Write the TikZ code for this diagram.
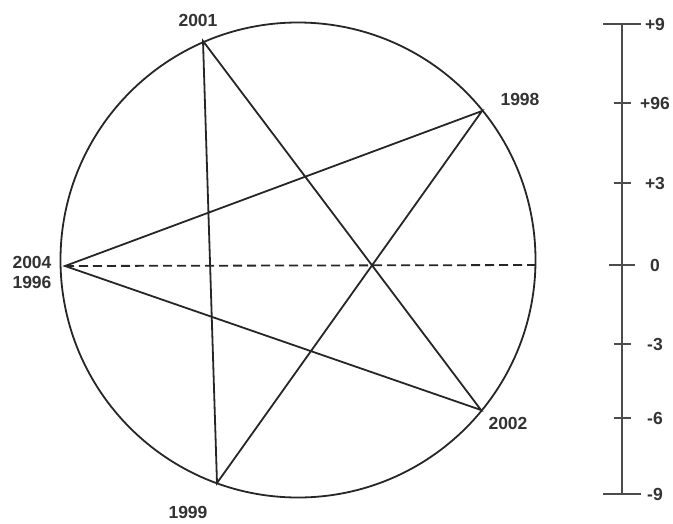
\documentclass[tikz,border=0pt]{standalone}
\usepackage{fontspec}
\setmainfont{Liberation Sans}
\usetikzlibrary{positioning}

\begin{document}
\begin{tikzpicture}[x=1pt, y=-1pt,
        yearlabel/.style={font=\fontsize{17.5}{18}\selectfont\bfseries, text=black!80, inner sep=0pt},
        scalelabel/.style={yearlabel},
        starline/.style={line width=1.8pt, draw=black!85},
        dashline/.style={line width=1.8pt, draw=black!85, dash pattern=on 9pt off 5pt},
        scaleline/.style={line width=2.4pt, draw=black!70}
      ]
        \useasboundingbox (0,0) rectangle (673,523);

        % circle and star
        \draw[starline] (298,260) circle (237.5);
        \coordinate (y2001) at (203,41);
        \coordinate (y1998) at (482,111);
        \coordinate (y2002) at (481,410);
        \coordinate (y1999) at (217,483);
        \coordinate (y1996) at (65,266);
        \coordinate (rim) at (535.5,265);

        \draw[starline] (y1996) -- (y1998) -- (y1999) -- (y2001) -- (y2002) -- cycle;
        \draw[dashline] (y1996) -- (rim);

        \node[yearlabel] (l2001) at (198,20) {2001};
        \node[yearlabel] (l1998) at (520,99) {1998};
        \node[yearlabel] (l2002) at (508,423) {2002};
        \node[yearlabel] (l1999) at (188,512) {1999};
        \node[yearlabel] (l2004) at (32,262) {2004};
        \node[yearlabel] (l1996) at (32,282) {1996};

        % scale
        \coordinate (stop) at (622,24);
        \coordinate (sbot) at (622,494);
        \draw[scaleline] (stop) -- (sbot);
        \foreach \yy/\w/\lab/\nm in {24/19/+9/p9, 103/8.5/+96/p96, 183/8.5/+3/p3, 265/13/0/z,
                                     344/8.5/-3/m3, 418/8.5/-6/m6, 494/19/-9/m9} {
          \draw[scaleline] (622-\w,\yy) -- (622+\w,\yy);
          \node[scalelabel] (s\nm) at (655,\yy) {\lab};
        }
      \end{tikzpicture}
\end{document}
